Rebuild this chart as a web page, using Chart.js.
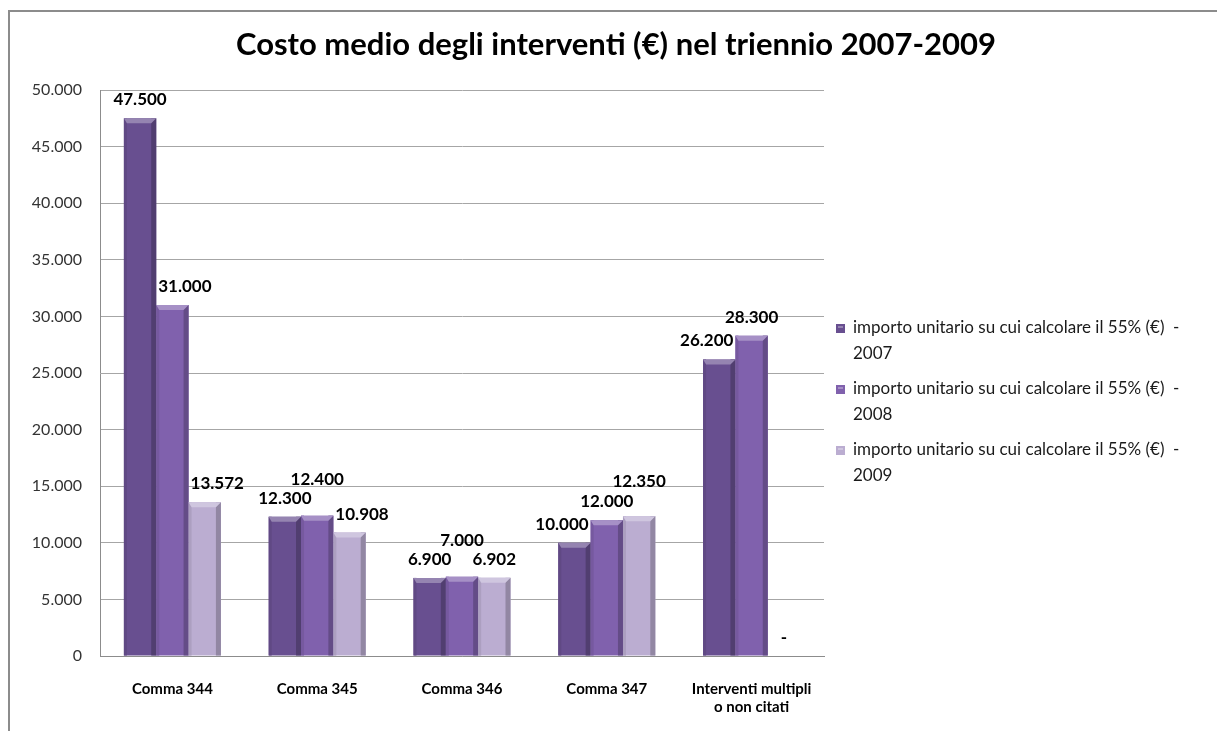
<!DOCTYPE html>
<html>
<head>
<meta charset="utf-8">
<script src="https://cdn.jsdelivr.net/npm/chart.js@4.4.0/dist/chart.umd.min.js"></script>
<style>
   body { margin: 0; background: #fff; }
   #frame {
      position: absolute; left: 8px; top: 10px; width: 1300px; height: 800px;
      border-left: 2px solid #8c8c8c; border-top: 2px solid #8c8c8c;
   }
   #wrap { position: absolute; left: 0; top: 0; width: 1217px; height: 731px; }
</style>
</head>
<body>
<div id="frame"></div>
<div id="wrap"><canvas id="myChart" width="1217" height="731"></canvas></div>
<script>
const ctx = document.getElementById("myChart").getContext("2d");

let categories = [
   'Comma 344',
   'Comma 345',
   'Comma 346',
   'Comma 347',
   ['Interventi multipli', 'o non citati']
];

let years = ['2007', '2008', '2009'];

let values2007 = [47500, 12300, 6900, 10000, 26200];
let values2008 = [31000, 12400, 7000, 12000, 28300];
let values2009 = [13572, 10908, 6902, 12350, 0];

let yTicks = [0, 5000, 10000, 15000, 20000, 25000, 30000, 35000, 40000, 45000, 50000];

const titleText = 'Costo medio degli interventi (€) nel triennio 2007-2009';
const colors = ['#684f90', '#8061ad', '#bbadd1'];
const font = 'Lato, "Open Sans", sans-serif';

function fmt(v) {
   if (v === 0) return '-';
   return String(v).replace(/\B(?=(\d{3})+(?!\d))/g, '.');
}

function shade(hex, f) {
   let n = parseInt(hex.slice(1), 16);
   let r = (n >> 16) & 255, g = (n >> 8) & 255, b = n & 255;
   const m = c => Math.max(0, Math.min(255, Math.round(f > 0 ? c + (255 - c) * f : c * (1 + f))));
   return `rgb(${m(r)},${m(g)},${m(b)})`;
}

// title centred on the whole page, not on the plot
const pageTitle = {
   id: 'pageTitle',
   afterDraw(chart) {
      const c = chart.ctx;
      c.save();
      c.font = 'bold 31px ' + font;
      c.fillStyle = '#000';
      c.textAlign = 'center';
      c.textBaseline = 'middle';
      c.fillText(titleText, 616, 45);
      c.restore();
   }
};

// bevel look on each bar
const barBevel = {
   id: 'barBevel',
   afterDatasetsDraw(chart) {
      const c = chart.ctx;
      chart.data.datasets.forEach((ds, i) => {
         chart.getDatasetMeta(i).data.forEach((bar, j) => {
            if (!(ds.data[j] > 0)) return;
            const left = bar.x - bar.width / 2, right = bar.x + bar.width / 2;
            const top = bar.y, base = bar.base, bev = 5;
            c.save();
            c.fillStyle = shade(colors[i], -0.22);
            c.fillRect(right - bev, top, bev, base - top);
            c.fillStyle = shade(colors[i], -0.08);
            c.fillRect(left, top, 3, base - top);
            c.fillStyle = shade(colors[i], 0.3);
            c.beginPath();
            c.moveTo(left, top);
            c.lineTo(right, top);
            c.lineTo(right - bev, top + bev);
            c.lineTo(left + 3, top + bev);
            c.closePath();
            c.fill();
            c.restore();
         });
      });
   }
};

// value labels above bars, nudged so they don't sit on a neighbour bar or label
const valueLabels = {
   id: 'valueLabels',
   afterDatasetsDraw(chart) {
      const c = chart.ctx;
      const n = chart.data.datasets.length;
      const h = 17, lift = 10, gap = 2;
      const placed = [];
      c.save();
      c.font = 'bold 17px ' + font;
      c.fillStyle = '#000';
      c.textBaseline = 'bottom';
      c.textAlign = 'left';
      const hits = (a, b) => a.l < b.r && a.r > b.l && a.t < b.b && a.b > b.t;
      chart.data.labels.forEach((_, j) => {
         const bars = [];
         for (let i = 0; i < n; i++) bars.push(chart.getDatasetMeta(i).data[j]);
         const rect = b => ({ l: b.x - b.width / 2, r: b.x + b.width / 2, t: b.y, b: b.base });
         for (let i = 0; i < n; i++) {
            const bar = bars[i];
            const txt = fmt(chart.data.datasets[i].data[j]);
            const w = c.measureText(txt).width;
            const me = rect(bar);
            let box = { l: bar.x - w / 2, r: bar.x + w / 2, t: bar.y - lift - h, b: bar.y - lift };
            if (i < n - 1 && hits(box, rect(bars[i + 1]))) {
               box.r = me.r - 2; box.l = box.r - w;
            } else if (i > 0 && hits(box, rect(bars[i - 1]))) {
               box.l = me.l + 2; box.r = box.l + w;
            }
            let guard = 0;
            while (placed.some(p => hits(box, { l: p.l, r: p.r, t: p.t - gap, b: p.b + gap })) && guard++ < 60) {
               box.t -= 2; box.b -= 2;
            }
            placed.push(box);
            c.fillText(txt, box.l, box.b);
         }
      });
      c.restore();
   }
};

// two-line legend on the right
const sideLegend = {
   id: 'sideLegend',
   afterDraw(chart) {
      const c = chart.ctx;
      const x = chart.chartArea.right + 12;
      chart.data.datasets.forEach((ds, i) => {
         const y = 328 + i * 61;
         c.save();
         c.fillStyle = colors[i];
         c.fillRect(x, y - 4, 9, 9);
         c.fillStyle = shade(colors[i], 0.3);
         c.fillRect(x + 2, y - 2, 5, 2);
         c.font = '17px ' + font;
         c.fillStyle = '#1a1a1a';
         c.textBaseline = 'middle';
         c.fillText('importo unitario su cui calcolare il 55% (€)  -', x + 17, y);
         c.fillText(years[i], x + 17, y + 26);
         c.restore();
      });
   }
};

const data = {
   labels: categories,
   datasets: [values2007, values2008, values2009].map((vals, i) => ({
      label: 'importo unitario su cui calcolare il 55% (€)  - ' + years[i],
      data: vals,
      backgroundColor: colors[i],
      borderWidth: 0,
      categoryPercentage: 0.67,
      barPercentage: 1.0
   }))
};

const config = {
   type: 'bar',
   data: data,
   options: {
      responsive: false,
      animation: false,
      layout: {
         padding: { left: 10, right: 393, top: 90, bottom: 0 }
      },
      plugins: {
         legend: { display: false },
         tooltip: { enabled: false },
         title: { display: false }
      },
      scales: {
         x: {
            afterFit: s => { s.height = 75; },
            grid: { display: false, drawTicks: false },
            border: { display: true, color: '#8c8c8c' },
            ticks: {
               color: '#000',
               padding: 24,
               maxRotation: 0,
               font: { family: font, size: 15, weight: 'bold' }
            }
         },
         y: {
            min: 0,
            max: 50000,
            afterFit: s => { s.width = 90; },
            afterBuildTicks: s => { s.ticks = yTicks.map(v => ({ value: v })); },
            grid: { color: '#a6a6a6', drawTicks: false },
            border: { display: true, color: '#8c8c8c' },
            ticks: {
               color: '#333',
               padding: 18,
               font: { family: font, size: 16 },
               callback: v => String(v).replace(/\B(?=(\d{3})+(?!\d))/g, '.')
            }
         }
      }
   },
   plugins: [barBevel, valueLabels, sideLegend, pageTitle]
};

const myChart = new Chart(ctx, config);
</script>
</body>
</html>
